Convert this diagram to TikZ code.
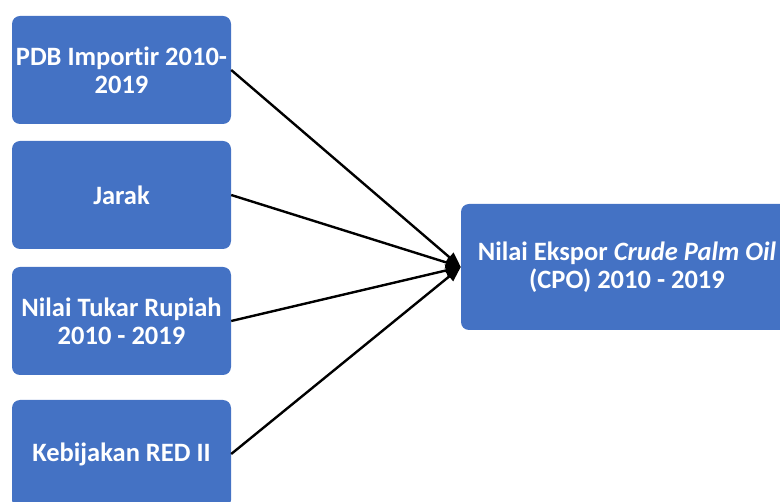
\documentclass[tikz,border=0pt]{standalone}
\usepackage{fontspec}
\setmainfont[Ligatures=NoCommon]{Carlito}
\usetikzlibrary{positioning, arrows.meta}
\definecolor{boxblue}{HTML}{4472C4}

\begin{document}
\begin{tikzpicture}[x=1pt, y=-1pt, on grid,
    box/.style={rectangle, rounded corners=8pt, fill=boxblue, text=white,
        font=\fontsize{26.5}{28}\selectfont\bfseries, align=center,
        minimum width=219pt, minimum height=108pt, inner sep=0pt},
    link/.style={line width=2.4pt, -{Triangle[length=15pt, width=12pt]}}]
                \useasboundingbox (0,0) rectangle (780,502);
                \clip (0,0) rectangle (780,502);
                \node[box] (pdb) at (121.5,70) {PDB Importir 2010-\\2019};
                \node[box] (jarak) [below=125pt of pdb] {Jarak};
                \node[box] (kurs) [below=126pt of jarak] {Nilai Tukar Rupiah\\2010 - 2019};
                \node[box] (red) [below=133pt of kurs] {Kebijakan RED II};
                \node[box, minimum width=332pt, minimum height=126pt] (cpo) at (627,267)
                    {Nilai Ekspor \textit{Crude Palm Oil}\\(CPO) 2010 - 2019};
                \path[link]
                (pdb.east) edge (cpo.west)
                (jarak.east) edge (cpo.west)
                (kurs.east) edge (cpo.west)
                (red.east) edge (cpo.west);
            \end{tikzpicture}
\end{document}
